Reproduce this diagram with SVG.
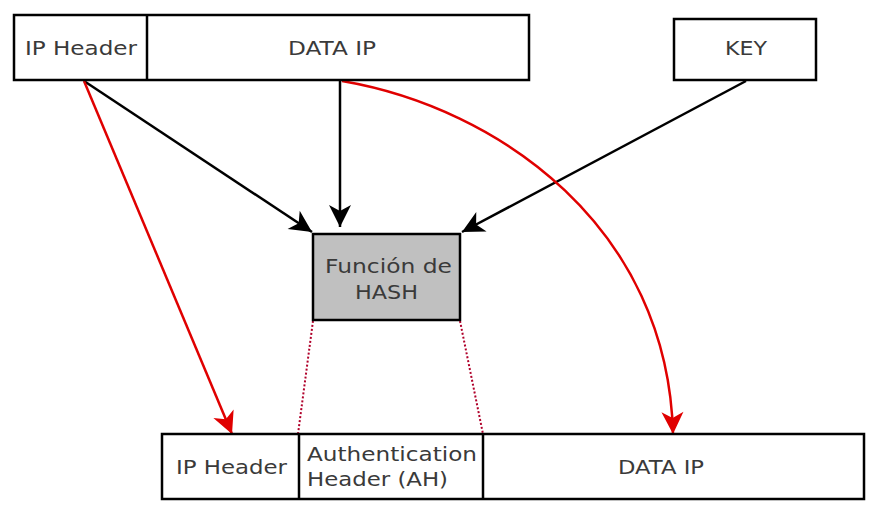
<svg xmlns="http://www.w3.org/2000/svg" width="878" height="515" viewBox="0 0 878 515">
<defs>
<style>
.box{fill:#fff;stroke:#000;stroke-width:2.5}
.hash{fill:#c0c0c0;stroke:#000;stroke-width:2.5}
.div{stroke:#000;stroke-width:2.5}
text{font-family:"DejaVu Sans",sans-serif;font-size:19.5px;fill:#3a3a3a}
.blk{stroke:#000;stroke-width:2.5;fill:none;marker-end:url(#ab)}
.red{stroke:#e00000;stroke-width:2.5;fill:none;marker-end:url(#ar)}
.dot{stroke:#b0002a;stroke-width:2;stroke-dasharray:2 2;fill:none}
</style>
<marker id="ab" markerWidth="10" markerHeight="10" refX="9" refY="5" orient="auto" markerUnits="userSpaceOnUse" viewBox="0 0 10 10" style="overflow:visible">
<path d="M-13,-6 L9,5 L-13,16 L-7,5 Z" fill="#000"/>
</marker>
<marker id="ar" markerWidth="10" markerHeight="10" refX="9" refY="5" orient="auto" markerUnits="userSpaceOnUse" viewBox="0 0 10 10" style="overflow:visible">
<path d="M-13,-6 L9,5 L-13,16 L-7,5 Z" fill="#e00000"/>
</marker>
</defs>
<g id="connectors">
<line class="blk" x1="84" y1="81" x2="312" y2="232"/>
<line class="blk" x1="340" y1="80" x2="340" y2="227"/>
<line class="blk" x1="746" y1="81" x2="462" y2="232"/>
<line class="red" x1="84" y1="81" x2="232" y2="434"/>
<path class="red" d="M342,81 C500,108 668,228 673,434"/>
<line class="dot" x1="313" y1="321" x2="298" y2="434"/>
<line class="dot" x1="460" y1="321" x2="483" y2="434"/>
</g>
<g id="top-packet">
<rect class="box" x="14" y="15" width="515" height="65"/>
<line class="div" x1="147" y1="15" x2="147" y2="80"/>
<text x="25" y="55" textLength="112" lengthAdjust="spacingAndGlyphs">IP Header</text>
<text x="288" y="55" textLength="88" lengthAdjust="spacingAndGlyphs">DATA IP</text>
</g>
<g id="key">
<rect class="box" x="674" y="19" width="142" height="61"/>
<text x="725" y="55" textLength="42" lengthAdjust="spacingAndGlyphs">KEY</text>
</g>
<g id="hash">
<rect class="hash" x="313" y="234" width="147" height="86"/>
<text x="325" y="273" textLength="127" lengthAdjust="spacingAndGlyphs">Función de</text>
<text x="355" y="299" textLength="63" lengthAdjust="spacingAndGlyphs">HASH</text>
</g>
<g id="bottom-packet">
<rect class="box" x="162" y="434" width="702" height="65"/>
<line class="div" x1="299" y1="434" x2="299" y2="499"/>
<line class="div" x1="483" y1="434" x2="483" y2="499"/>
<text x="176" y="474" textLength="111" lengthAdjust="spacingAndGlyphs">IP Header</text>
<text x="307" y="461" textLength="170" lengthAdjust="spacingAndGlyphs">Authentication</text>
<text x="307" y="486" textLength="141" lengthAdjust="spacingAndGlyphs">Header (AH)</text>
<text x="618" y="474" textLength="86" lengthAdjust="spacingAndGlyphs">DATA IP</text>
</g>
</svg>
